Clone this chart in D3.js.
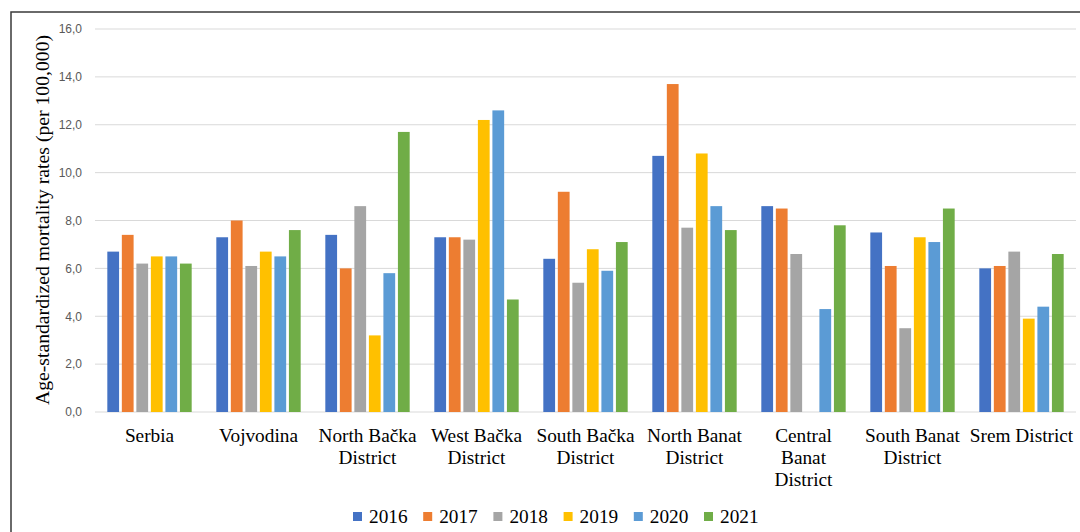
<!DOCTYPE html>
<html>
<head>
<meta charset="utf-8">
<script src="https://cdn.jsdelivr.net/npm/d3@7"></script>
<style>
  html, body { margin: 0; padding: 0; background: #fff; }
  svg { display: block; }
</style>
</head>
<body>
<svg id="chart" width="1080" height="532"></svg>
<script>
const categories = ["Serbia", "Vojvodina", "North Bačka District", "West Bačka District",
  "South Bačka District", "North Banat District", "Central Banat District",
  "South Banat District", "Srem District"];
const years = ["2016", "2017", "2018", "2019", "2020", "2021"];
const values2016 = [6.7, 7.3, 7.4, 7.3, 6.4, 10.7, 8.6, 7.5, 6.0];
const values2017 = [7.4, 8.0, 6.0, 7.3, 9.2, 13.7, 8.5, 6.1, 6.1];
const values2018 = [6.2, 6.1, 8.6, 7.2, 5.4, 7.7, 6.6, 3.5, 6.7];
const values2019 = [6.5, 6.7, 3.2, 12.2, 6.8, 10.8, null, 7.3, 3.9];
const values2020 = [6.5, 6.5, 5.8, 12.6, 5.9, 8.6, 4.3, 7.1, 4.4];
const values2021 = [6.2, 7.6, 11.7, 4.7, 7.1, 7.6, 7.8, 8.5, 6.6];
const yTicks = [0, 2, 4, 6, 8, 10, 12, 14, 16];
const colors = ["#4472C4", "#ED7D31", "#A5A5A5", "#FFC000", "#5B9BD5", "#70AD47"];
const yTitle = "Age-standardized mortality rates (per 100,000)";

const series = [values2016, values2017, values2018, values2019, values2020, values2021];

const svg = d3.select("#chart");
const serif = "'Liberation Serif', 'Times New Roman', serif";

// frame
svg.append("rect").attr("x", 11).attr("y", 12).attr("width", 1200).attr("height", 600)
  .attr("fill", "none").attr("stroke", "#3a3a3a").attr("stroke-width", 1.5);

const x0 = d3.scaleBand().domain(categories).range([95, 1076]).paddingInner(0.226).paddingOuter(0.113);
const x1 = d3.scaleBand().domain(years).range([0, x0.bandwidth()]).paddingInner(0.19).paddingOuter(0);
const y = d3.scaleLinear().domain([0, 16]).range([412, 29]);

// gridlines
svg.append("g").selectAll("line").data(yTicks).join("line")
  .attr("x1", 95).attr("x2", 1076)
  .attr("y1", d => y(d)).attr("y2", d => y(d))
  .attr("stroke", "#d9d9d9").attr("stroke-width", 1);

// y axis labels
const yAxis = d3.axisLeft(y).tickValues(yTicks).tickSize(0).tickPadding(0)
  .tickFormat(d => d3.format(".1f")(d).replace(".", ","));
const gy = svg.append("g").attr("transform", "translate(82,0)").call(yAxis);
gy.select(".domain").remove();
gy.selectAll("text").attr("fill", "#595959")
  .style("font-family", "'Liberation Sans', Arial, sans-serif").style("font-size", "12px");

// bars
const groups = svg.append("g").selectAll("g").data(categories).join("g")
  .attr("transform", d => `translate(${x0(d)},0)`);
groups.selectAll("rect")
  .data((c, i) => years.map((yr, k) => ({ yr, k, v: series[k][i] })).filter(d => d.v != null))
  .join("rect")
  .attr("x", d => x1(d.yr))
  .attr("width", x1.bandwidth())
  .attr("y", d => y(d.v))
  .attr("height", d => y(0) - y(d.v))
  .attr("fill", d => colors[d.k]);

// category labels (wrapped)
const xAxis = d3.axisBottom(x0).tickSize(0).tickPadding(0);
const gx = svg.append("g").attr("transform", "translate(0,0)").call(xAxis);
gx.select(".domain").remove();
gx.selectAll(".tick text").each(function(d) {
  const t = d3.select(this);
  t.text(null).attr("y", 0).attr("dy", null)
    .attr("fill", "#000").style("font-family", serif).style("font-size", "19.3px")
    .attr("text-anchor", "middle");
  const words = d.split(" ");
  const lines = [];
  let cur = [];
  const probe = t.append("tspan");
  words.forEach(w => {
    const test = cur.concat([w]).join(" ");
    probe.text(test);
    if (cur.length && probe.node().getComputedTextLength() > 105) {
      lines.push(cur.join(" "));
      cur = [w];
    } else {
      cur.push(w);
    }
  });
  lines.push(cur.join(" "));
  probe.remove();
  lines.forEach((ln, i) => {
    t.append("tspan").attr("x", 0).attr("y", 442 + i * 22).text(ln);
  });
});

// y title
svg.append("text")
  .attr("transform", "translate(49,220) rotate(-90)")
  .attr("text-anchor", "middle")
  .style("font-family", serif).style("font-size", "19.7px")
  .attr("fill", "#000")
  .text(yTitle);

// legend
const legend = svg.append("g").attr("transform", "translate(353,0)");
const items = legend.selectAll("g").data(years).join("g")
  .attr("transform", (d, i) => `translate(${i * 70.2},0)`);
items.append("rect").attr("x", 0).attr("y", 512).attr("width", 9).attr("height", 9)
  .attr("fill", (d, i) => colors[i]);
items.append("text").attr("x", 16).attr("y", 523)
  .style("font-family", serif).style("font-size", "19.3px").attr("fill", "#000")
  .text(d => d);
</script>
</body>
</html>
